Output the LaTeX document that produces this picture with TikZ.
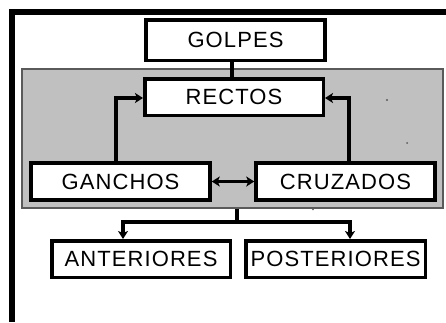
\documentclass[tikz,border=0pt]{standalone}
\usepackage{fontspec}
\setmainfont{Liberation Sans}[LetterSpace=5]
\usetikzlibrary{arrows.meta}
\definecolor{panelgray}{RGB}{192,192,192}
\definecolor{paneledge}{RGB}{90,90,90}
\tikzset{
  box/.style={draw=black, line width=3.5pt, fill=white, inner sep=0pt,
    minimum width=179pt, minimum height=37pt,
    font=\fontsize{22}{22}\selectfont},
  conn/.style={draw=black, line width=3.2pt},
  tip/.style={-{Stealth[length=8pt,width=10pt,inset=2pt]}},
  dtip/.style={{Stealth[length=8pt,width=10pt,inset=2pt]}-{Stealth[length=8pt,width=10pt,inset=2pt]}},
}
\begin{document}
\begin{tikzpicture}[x=1pt,y=-1pt]
\useasboundingbox (0,0) rectangle (446,322);
% outer frame (left and top sides)
\draw[line width=6pt] (11.5,322) -- (11.5,12) -- (446,12);
% gray panel
\node[draw=paneledge, fill=panelgray, line width=1.5pt, inner sep=0pt,
  minimum width=421pt, minimum height=139pt] (grp) at (232.5,138.5) {};
\fill[paneledge] (387,100) circle (1.2pt);
\fill[paneledge] (407,143) circle (1pt);
\fill[paneledge] (313,209.5) circle (0.9pt);
% boxes
\node[box, minimum height=40.5pt] (golpes) at (235.5,40) {GOLPES};
\node[box, minimum width=178.5pt, minimum height=36.5pt] (rectos) at (234,97) {RECTOS};
\node[box] (ganchos) at (120.5,181.5) {GANCHOS};
\node[box] (cruzados) at (345.5,181.5) {CRUZADOS};
\node[box, minimum width=178.5pt, minimum height=36.5pt] (ant) at (141,259) {ANTERIORES};
\node[box, minimum width=179.5pt, minimum height=36.5pt] (post) at (335.5,259) {POSTERIORES};
% connectors
\draw[conn] ([xshift=-3.5pt]golpes.south) -- ([xshift=-3.5pt]golpes.south |- rectos.north);
\draw[conn, tip] ([xshift=-4.5pt]ganchos.north) |- ([yshift=-1pt]rectos.west);
\draw[conn, tip] ([xshift=3.5pt]cruzados.north) |- ([yshift=-1pt]rectos.east);
\draw[conn, dtip] (ganchos.east) -- (cruzados.west);
\coordinate (split) at (237,222);
\draw[conn] (grp.south -| split) -- (split);
\draw[conn, tip] (split) -| ([xshift=-18pt]ant.north);
\draw[conn, tip] (split) -| ([xshift=14.5pt]post.north);
\end{tikzpicture}
\end{document}
